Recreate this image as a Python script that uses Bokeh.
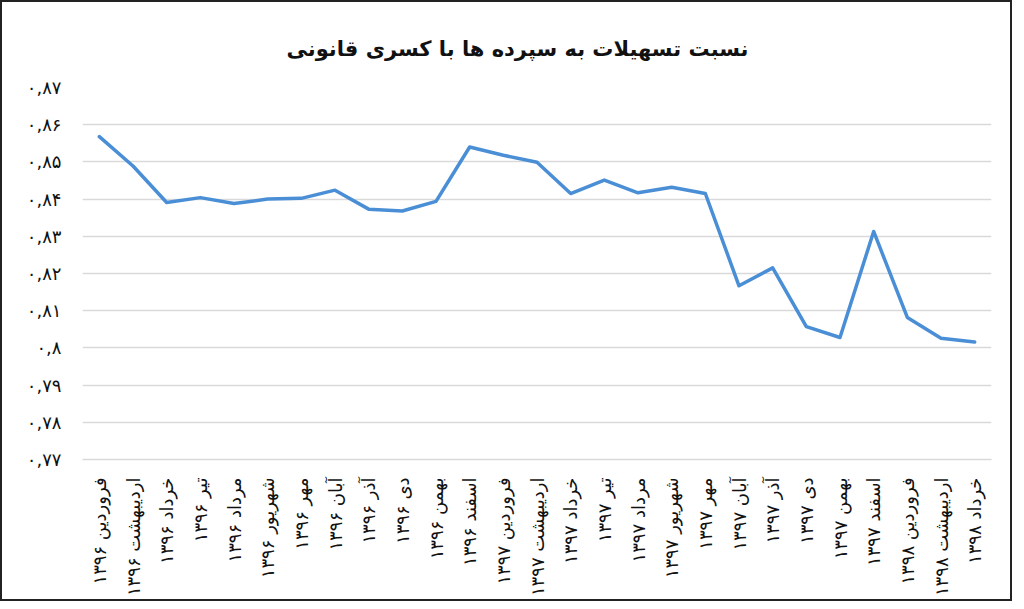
import math

from bokeh.plotting import figure
from bokeh.models import ColumnDataSource, FactorRange, Range1d, FixedTicker
from bokeh.embed import file_html
from bokeh.resources import INLINE

# months (Persian calendar), 1396/01 .. 1398/03
months = [
    "فروردین ۱۳۹۶", "اردیبهشت ۱۳۹۶", "خرداد ۱۳۹۶", "تیر ۱۳۹۶", "مرداد ۱۳۹۶", "شهریور ۱۳۹۶",
    "مهر ۱۳۹۶", "آبان ۱۳۹۶", "آذر ۱۳۹۶", "دی ۱۳۹۶", "بهمن ۱۳۹۶", "اسفند ۱۳۹۶",
    "فروردین ۱۳۹۷", "اردیبهشت ۱۳۹۷", "خرداد ۱۳۹۷", "تیر ۱۳۹۷", "مرداد ۱۳۹۷", "شهریور ۱۳۹۷",
    "مهر ۱۳۹۷", "آبان ۱۳۹۷", "آذر ۱۳۹۷", "دی ۱۳۹۷", "بهمن ۱۳۹۷", "اسفند ۱۳۹۷",
    "فروردین ۱۳۹۸", "اردیبهشت ۱۳۹۸", "خرداد ۱۳۹۸",
]

# loan to deposit ratio
ratio = [
    0.8568, 0.8489, 0.8391, 0.8404, 0.8388, 0.8400,
    0.8402, 0.8424, 0.8373, 0.8368, 0.8394, 0.8540,
    0.8518, 0.8499, 0.8415, 0.8451, 0.8417, 0.8432,
    0.8415, 0.8167, 0.8215, 0.8057, 0.8028, 0.8313,
    0.8082, 0.8026, 0.8016,
]

y_ticks = [0.77, 0.78, 0.79, 0.80, 0.81, 0.82, 0.83, 0.84, 0.85, 0.86, 0.87]
y_tick_labels = ["۰,۷۷", "۰,۷۸", "۰,۷۹", "۰,۸", "۰,۸۱", "۰,۸۲", "۰,۸۳", "۰,۸۴", "۰,۸۵", "۰,۸۶", "۰,۸۷"]

title_text = "نسبت تسهیلات به سپرده ها با کسری قانونی"

FONT = "DejaVu Sans"

source = ColumnDataSource(data={"month": months, "ratio": ratio})

p = figure(
    x_range=FactorRange(*months, range_padding=0),
    y_range=Range1d(0.77, 0.87),
    frame_width=909,
    frame_height=372,
    min_border_left=80,
    min_border_right=19,
    min_border_top=85,
    min_border_bottom=136,
    width=1008,
    height=593,
    output_backend="svg",
    toolbar_location=None,
    title=title_text,
)

p.line(x="month", y="ratio", source=source, line_color="#4a8fd6", line_width=3.5,
       line_join="round", line_cap="round")

p.title.align = "left"
p.title.offset = 204
p.title.text_font = FONT
p.title.text_font_size = "21px"
p.title.text_font_style = "bold"
p.title.text_color = "#111111"
p.title.standoff = 54

p.outline_line_color = None
p.background_fill_color = "white"
p.border_fill_color = "white"

p.xgrid.grid_line_color = None
p.ygrid.grid_line_color = "#d9d9d9"
p.ygrid.grid_line_width = 1.5

p.yaxis.ticker = FixedTicker(ticks=y_ticks)
p.yaxis.major_label_overrides = {t: s for t, s in zip(y_ticks, y_tick_labels)}
p.yaxis.axis_line_color = None
p.yaxis.major_tick_line_color = None
p.yaxis.minor_tick_line_color = None
p.yaxis.major_label_standoff = 15
p.yaxis.major_label_text_font = FONT
p.yaxis.major_label_text_font_size = "18px"
p.yaxis.major_label_text_color = "#111111"

p.xaxis.axis_line_color = "#d9d9d9"
p.xaxis.axis_line_width = 1.5
p.xaxis.major_tick_line_color = None
p.xaxis.minor_tick_line_color = None
p.xaxis.major_label_orientation = math.pi / 2
p.xaxis.major_label_standoff = 12
p.xaxis.major_label_text_font = FONT
p.xaxis.major_label_text_font_size = "18px"
p.xaxis.major_label_text_color = "#111111"

p.styles = {"border": "2px solid #222222", "box-sizing": "border-box"}

open("out.html", "w").write(file_html(p, INLINE))
